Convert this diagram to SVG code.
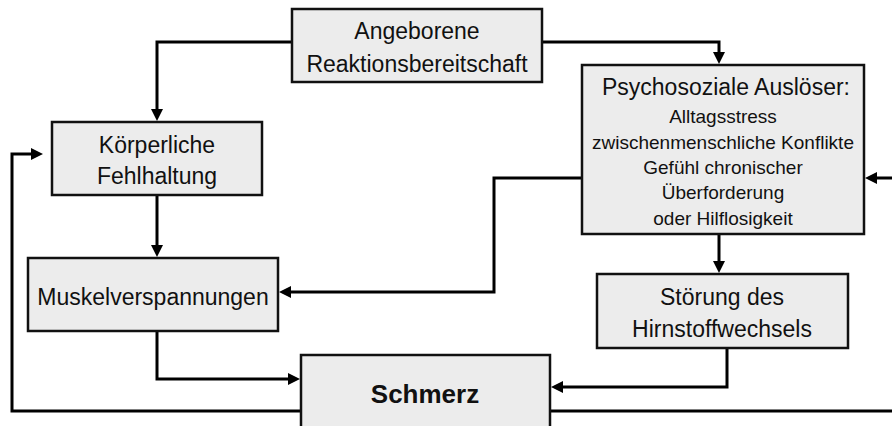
<svg xmlns="http://www.w3.org/2000/svg" width="892" height="426" viewBox="0 0 892 426">
<defs>
<marker id="arr" markerUnits="userSpaceOnUse" markerWidth="13" markerHeight="13" refX="1" refY="6" orient="auto">
<path d="M0,0 L12,6 L0,12 z" fill="#000"/>
</marker>
<style>
.box{fill:#ececec;stroke:#111;stroke-width:2.5}
.t{font-family:"Liberation Sans",Arial,sans-serif;font-size:23px;fill:#111;text-anchor:middle}
.s{font-family:"Liberation Sans",Arial,sans-serif;font-size:19px;fill:#111;text-anchor:middle}
.b{font-family:"Liberation Sans",Arial,sans-serif;font-size:26px;font-weight:bold;fill:#111;text-anchor:middle}
.c{fill:none;stroke:#000;stroke-width:3}
</style>
</defs>
<rect width="892" height="426" fill="#fff"/>
<g id="connectors">
<path class="c" d="M292,42 H157 V110" marker-end="url(#arr)"/>
<path class="c" d="M542,42 H719 V53" marker-end="url(#arr)"/>
<path class="c" d="M157,195 V246" marker-end="url(#arr)"/>
<path class="c" d="M582,178 H494 V292 H290" marker-end="url(#arr)"/>
<path class="c" d="M719,234 V262" marker-end="url(#arr)"/>
<path class="c" d="M157,331 V379 H289" marker-end="url(#arr)"/>
<path class="c" d="M727,348 V387 H562" marker-end="url(#arr)"/>
<path class="c" d="M301,411 H12 V154 H32" marker-end="url(#arr)"/>
<path class="c" d="M550,411 H900 V178 H876" marker-end="url(#arr)"/>
</g>
<g id="angeborene">
<rect class="box" x="292" y="9" width="250" height="73"/>
<text class="t" x="417" y="39">Angeborene</text>
<text class="t" x="417" y="72">Reaktionsbereitschaft</text>
</g>
<g id="koerperliche">
<rect class="box" x="52" y="122" width="210" height="73"/>
<text class="t" x="157" y="153">Körperliche</text>
<text class="t" x="157" y="184">Fehlhaltung</text>
</g>
<g id="psychosoziale">
<rect class="box" x="582" y="65" width="282" height="169"/>
<text class="t" x="726" y="95">Psychosoziale Auslöser:</text>
<text class="s" x="723" y="123">Alltagsstress</text>
<text class="s" x="723" y="149">zwischenmenschliche Konflikte</text>
<text class="s" x="723" y="174">Gefühl chronischer</text>
<text class="s" x="723" y="199">Überforderung</text>
<text class="s" x="723" y="225">oder Hilflosigkeit</text>
</g>
<g id="muskel">
<rect class="box" x="28" y="258" width="250" height="73"/>
<text class="t" x="153" y="305">Muskelverspannungen</text>
</g>
<g id="stoerung">
<rect class="box" x="597" y="274" width="251" height="74"/>
<text class="t" x="722" y="305">Störung des</text>
<text class="t" x="722" y="337">Hirnstoffwechsels</text>
</g>
<g id="schmerz">
<rect class="box" x="301" y="355" width="249" height="80"/>
<text class="b" x="425" y="403">Schmerz</text>
</g>
</svg>
